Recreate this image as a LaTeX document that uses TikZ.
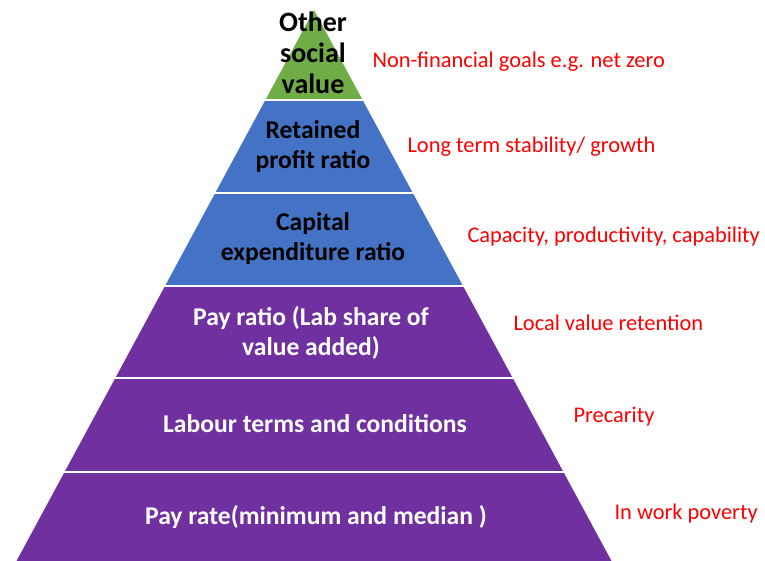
\documentclass[tikz,border=0pt]{standalone}
\usepackage{fontspec}
\setmainfont{Carlito}
\definecolor{topgreen}{HTML}{70AD47}
\definecolor{midblue}{HTML}{4472C4}
\definecolor{lowpurple}{HTML}{7030A0}
\definecolor{goalred}{HTML}{FF0000}
\tikzset{
  tierdark/.style={font=\bfseries\fontsize{25.6}{30}\selectfont, align=center, text=black},
  tierlight/.style={font=\bfseries\fontsize{25.6}{30}\selectfont, align=center, text=white},
  goal/.style={font=\fontsize{22.4}{26}\selectfont, text=goalred, anchor=west},
  gap/.style={white, line width=2.5pt}
}
\begin{document}
\begin{tikzpicture}[x=1pt,y=-1pt]
\useasboundingbox (0,0) rectangle (765,561);

% pyramid tiers
\fill[topgreen] (314,10) -- (362.6,100) -- (265.4,100) -- cycle;
\fill[midblue] (265.4,100) -- (362.6,100) -- (463,286) -- (165,286) -- cycle;
\fill[lowpurple] (165,286) -- (463,286) -- (611.5,561) -- (16.5,561) -- cycle;

% white separators
\foreach \y/\l/\r in {100/265.4/362.6, 193/215.2/412.8, 286/165/463, 378/115.3/512.7, 472/64.5/563.5}
  \draw[gap] (\l-2,\y) -- (\r+2,\y);

% tier texts
\node[tierdark, font=\bfseries\fontsize{28}{31}\selectfont] (other) at (313,53) {Other\\social\\value};
\node[tierdark] (retained) at (313,147) {Retained\\profit ratio};
\node[tierdark] (capex) at (313,239) {Capital\\expenditure ratio};
\node[tierlight] (payratio) at (311,333) {Pay ratio (Lab share of\\value added)};
\node[tierlight] (labour) at (315,424) {Labour terms and conditions};
\node[tierlight] (payrate) at (316,517) {Pay rate(minimum and median )};

% goals
\node[goal] (nonfin) at (369,62) {Non-financial goals e.g. net zero};
\node[goal] (stability) at (404,147) {Long term stability/ growth};
\node[goal] (capacity) at (464,237) {Capacity, productivity, capability};
\node[goal] (local) at (510,323) {Local value retention};
\node[goal] (precarity) at (570,417) {Precarity};
\node[goal] (poverty) at (611,514) {In work poverty};
\end{tikzpicture}
\end{document}
